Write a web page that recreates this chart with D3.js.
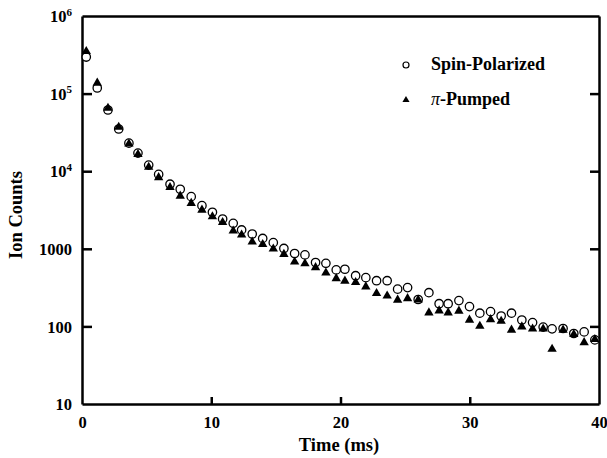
<!DOCTYPE html>
<meta charset="utf-8">
<style>
body { margin: 0; background: #fff; }
svg text { font-family: "Liberation Serif", "DejaVu Serif", serif; font-weight: bold; fill: #000; }
.axis path, .axis line { stroke: #000; stroke-width: 2.5; fill: none; }
.axis text { font-size: 16.5px; }
</style>
<body>
<div id="chart"></div>
<script src="https://d3js.org/d3.v7.min.js"></script>
<script>

// time (ms) of each sample
var times = [0.33, 1.18, 2.01, 2.84, 3.63, 4.33, 5.16, 5.93, 6.81, 7.60,
             8.45, 9.28, 10.09, 10.88, 11.70, 12.35, 13.17, 13.98, 14.80, 15.62,
             16.45, 17.25, 18.07, 18.87, 19.67, 20.34, 21.17, 21.96, 22.79, 23.61,
             24.42, 25.19, 26.01, 26.84, 27.63, 28.33, 29.16, 29.98, 30.78, 31.61,
             32.43, 33.23, 34.03, 34.86, 35.68, 36.37, 37.22, 38.05, 38.85, 39.68];

var spinPolarized = [296000, 118000, 61500, 35000, 23000, 17100, 12000, 9100, 6800, 5850,
                     4700, 3600, 2960, 2420, 2130, 1750, 1550, 1360, 1200, 1010,
                     870, 835, 665, 650, 535, 545, 450, 425, 388, 388,
                     302, 316, 222, 272, 196, 196, 215, 180, 148, 155,
                     136, 148, 121, 112, 98, 93, 94, 81, 85, 67];

var piPumped = [350000, 137000, 65000, 37000, 22500, 16500, 11300, 8300, 6200, 4800,
                3860, 3160, 2600, 2190, 1700, 1510, 1230, 1140, 1000, 850,
                680, 645, 575, 490, 415, 385, 370, 325, 267, 248,
                219, 229, 220, 150, 159, 150, 158, 121, 101, 123,
                117, 90, 99, 93, 93, 51, 90, 79, 62, 68];

var xTicks = [0, 10, 20, 30, 40];
var yTicks = [10, 100, 1000, 1e4, 1e5, 1e6];
var yTickLabels = [["10"], ["100"], ["1000"], ["10", "4"], ["10", "5"], ["10", "6"]];

var width = 607, height = 458;
var x = d3.scaleLinear().domain([0, 40]).range([82, 599]);
var y = d3.scaleLog().domain([10, 1e6]).range([404, 16]);

var svg = d3.select("#chart").append("svg")
    .attr("width", width)
    .attr("height", height);

// frame: top and right lines
svg.append("g").attr("class", "axis")
   .attr("transform", "translate(0,16)")
   .call(d3.axisTop(x).tickValues([]).tickSizeOuter(0));

svg.append("g").attr("class", "axis")
   .attr("transform", "translate(599,0)")
   .call(d3.axisRight(y).tickValues(yTicks.slice(1, 5)).tickSize(-9).tickSizeOuter(0).tickFormat(""));

// bottom axis, ticks pointing inward
var xAxis = svg.append("g").attr("class", "axis")
   .attr("transform", "translate(0,404)")
   .call(d3.axisBottom(x).tickValues(xTicks).tickSize(-7).tickSizeOuter(0).tickFormat(d3.format("d")));
xAxis.selectAll(".tick line").filter(function(d) { return d == 0 || d == 40; }).remove();
xAxis.selectAll("text").attr("y", 12).attr("dy", "0.71em");

// left axis
var yAxis = svg.append("g").attr("class", "axis")
   .attr("transform", "translate(82,0)")
   .call(d3.axisLeft(y).tickValues(yTicks).tickSize(-10).tickSizeOuter(0).tickFormat(""));
yAxis.selectAll(".tick line").filter(function(d) { return d == 10 || d == 1e6; }).remove();

yAxis.selectAll(".tick text").each(function(d, i) {
  var t = d3.select(this).attr("x", -10).attr("dy", "0.35em").text(null);
  var lab = yTickLabels[i];
  t.append("tspan").text(lab[0]);
  if (lab.length > 1) {
    t.append("tspan").attr("dy", "-0.6em").attr("font-size", "11px").text(lab[1]);
  }
});

// data marks
svg.append("g").selectAll("circle")
   .data(times)
   .enter().append("circle")
   .attr("cx", d => x(d))
   .attr("cy", (d, i) => y(spinPolarized[i]))
   .attr("r", 4.2)
   .style("fill", "#fff")
   .style("stroke", "#000")
   .style("stroke-width", 1.3);

var tri = d3.symbol().type(d3.symbolTriangle).size(38);
svg.append("g").selectAll("path")
   .data(times)
   .enter().append("path")
   .attr("d", tri)
   .attr("transform", (d, i) => `translate(${x(d)},${y(piPumped[i])})`)
   .style("fill", "#000");

// legend
var legend = svg.append("g");
legend.append("circle").attr("cx", 406).attr("cy", 65).attr("r", 3)
  .style("fill", "#fff").style("stroke", "#000").style("stroke-width", 1.2);
legend.append("path").attr("d", d3.symbol().type(d3.symbolTriangle).size(22))
  .attr("transform", "translate(406,100)").style("fill", "#000");
legend.append("text").attr("x", 431).attr("y", 70).style("font-size", "18px").text("Spin-Polarized");
legend.append("text").attr("x", 431).attr("y", 105).style("font-size", "18px")
  .html('<tspan font-style="italic" font-weight="normal">π</tspan>-Pumped');

// axis titles
svg.append("text")
   .attr("transform", "rotate(-90)")
   .attr("x", -215)
   .attr("y", 22)
   .style("text-anchor", "middle")
   .style("font-size", "18.5px")
   .text("Ion Counts");

svg.append("text")
   .attr("x", 339)
   .attr("y", 451)
   .style("text-anchor", "middle")
   .style("font-size", "18.5px")
   .text("Time (ms)");

</script>
</body>
